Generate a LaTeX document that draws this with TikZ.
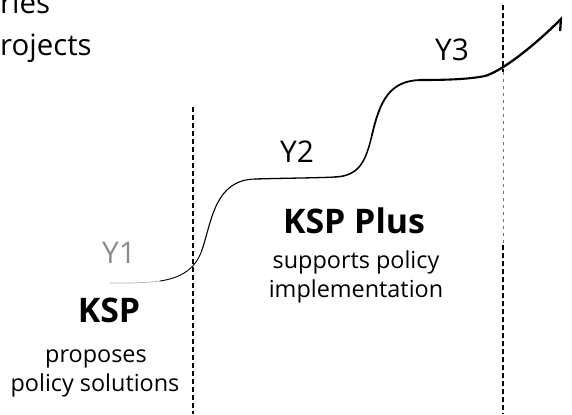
\documentclass[tikz,border=0pt]{standalone}
\usepackage{fontspec}
\setmainfont{Open Sans}
\usetikzlibrary{arrows.meta}
\begin{document}
\begin{tikzpicture}[x=1bp,y=-1bp,
  head/.style={font=\fontsize{34}{36}\selectfont\bfseries, inner sep=0pt, anchor=base},
  body/.style={font=\fontsize{23.5}{28}\selectfont, inner sep=0pt, anchor=base},
  toptext/.style={font=\fontsize{29.5}{34}\selectfont, inner sep=0pt, anchor=base west},
  ylab/.style={font=\fontsize{30}{34}\selectfont, inner sep=0pt, anchor=base},
  vdash/.style={line width=1.3bp, dash pattern=on 5bp off 3bp},
  vfaint/.style={line width=0.8bp, dash pattern=on 3bp off 4bp, black!55},
  curve/.style={line cap=round}]
\useasboundingbox (0,0) rectangle (572,414);

% top-left cut text
\node[toptext] (t1) at (0,13) {ries};
\node[toptext] (t2) at (0,55) {rojects};

% dashed separators
\coordinate (la) at (193,107);
\coordinate (lb) at (193,414);
\coordinate (ra) at (503,5);
\coordinate (rm1) at (503,72);
\coordinate (rm2) at (503,245);
\coordinate (rb) at (503,414);
\draw[vdash] (la) -- (lb);
\draw[vdash] (ra) -- (rm1);
\draw[vfaint] (rm1) -- (rm2);
\draw[vdash] (rm2) -- (rb);

% growth curve
\coordinate (c0) at (110,283);
\coordinate (c1) at (160,281);
\coordinate (c2) at (202,250);
\coordinate (c3) at (255,179);
\coordinate (c4) at (335,177);
\coordinate (c5) at (372,135);
\coordinate (c6) at (420,80);
\coordinate (c7) at (485,76);
\coordinate (tip) at (563,17);
\draw[curve, black!35, line width=0.7bp, dash pattern=on 2bp off 1bp] (c0) .. controls (140,283) .. (c1);
\draw[curve, line width=0.9bp] (c1) .. controls (180,278) and (195,270) .. (c2);
\draw[curve, line width=1.1bp] (c2) .. controls (212,220) and (215,180) .. (c3);
\draw[curve, line width=1.3bp] (c3) .. controls (290,178) and (315,178) .. (c4);
\draw[curve, line width=1.5bp] (c4) .. controls (360,176) and (366,160) .. (c5);
\draw[curve, line width=1.8bp] (c5) .. controls (380,100) and (390,81) .. (c6);
\draw[curve, line width=2.1bp] (c6) .. controls (450,80) and (470,79) .. (c7);
\draw[curve, line width=2.3bp, -{Straight Barb[harpoon,swap,length=9bp,width=16bp]}] (c7) .. controls (505,70) and (540,40) .. (tip);

% year labels
\node[ylab, black!45] (y1) at (119,263) {Y1};
\node[ylab] (y2) at (297,162) {Y2};
\node[ylab] (y3) at (452,60) {Y3};

% KSP block
\node[head] (ksp) at (109,322) {KSP};
\node[body] (ksp1) at (96,362) {proposes};
\node[body] (ksp2) at (95,391) {policy solutions};

% KSP Plus block
\node[head] (kspp) at (354,233) {KSP Plus};
\node[body] (kspp1) at (356,268) {supports policy};
\node[body] (kspp2) at (356,297) {implementation};
\end{tikzpicture}
\end{document}
